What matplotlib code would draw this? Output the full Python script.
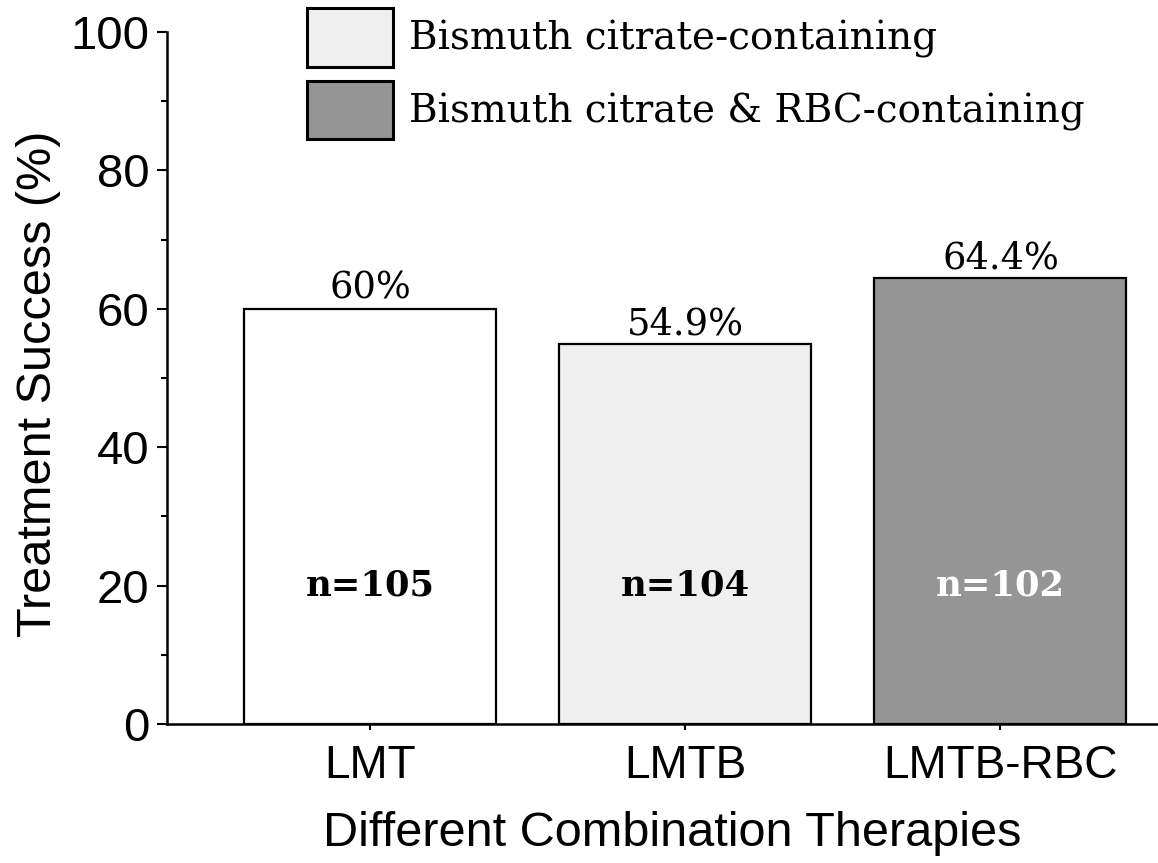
import matplotlib.pyplot as plt
from matplotlib.patches import Patch
from matplotlib.ticker import MultipleLocator

therapies = ['LMT', 'LMTB', 'LMTB-RBC']
success = [60, 54.9, 64.4]
value_labels = ['60%', '54.9%', '64.4%']
n_labels = ['n=105', 'n=104', 'n=102']
colors = ['#ffffff', '#efefef', '#959595']
n_colors = ['black', 'black', 'white']
legend_labels = ['Bismuth citrate-containing', 'Bismuth citrate & RBC-containing']

serif = 'DejaVu Serif'
sans = 'Liberation Sans'

fig = plt.figure(figsize=(11.58, 8.63), dpi=100)
ax = fig.add_axes([0.1442, 0.161, 0.8558, 0.802])

x = range(len(therapies))
ax.bar(x, success, width=0.8, color=colors, edgecolor='black', linewidth=1.6, zorder=2)

for i, v in enumerate(success):
    ax.text(i, v + 0.3, value_labels[i], ha='center', va='bottom',
            fontsize=26.5, family=serif)
    ax.text(i, 20, n_labels[i], ha='center', va='center', fontsize=25.5,
            family=serif, fontweight='bold', color=n_colors[i])

ax.set_xlim(-0.645, 2.5)
ax.set_ylim(0, 100)
ax.set_xticks(list(x))
ax.set_xticklabels(therapies, fontsize=33, family=sans)
ax.yaxis.set_major_locator(MultipleLocator(20))
ax.yaxis.set_minor_locator(MultipleLocator(10))
for lab in ax.get_yticklabels():
    lab.set_family(sans)
    lab.set_fontsize(34)
ax.tick_params(axis='y', which='major', length=7.5, width=1.5, pad=5)
ax.tick_params(axis='y', which='minor', length=4, width=1.5)
ax.tick_params(axis='x', which='major', length=4, width=1.5, pad=10)

for s in ['top', 'right']:
    ax.spines[s].set_visible(False)
for s in ['left', 'bottom']:
    ax.spines[s].set_linewidth(1.8)

ax.set_ylabel('Treatment Success (%)', fontsize=35, family=sans, labelpad=7, y=0.492)
ax.set_xlabel('Different Combination Therapies', fontsize=35, family=sans, labelpad=17, x=0.5096)

handles = [Patch(facecolor=colors[1], edgecolor='black', linewidth=2.2),
           Patch(facecolor=colors[2], edgecolor='black', linewidth=2.2)]
fig.legend(handles, legend_labels, loc='upper left', bbox_to_anchor=(0.2655, 0.9904),
           frameon=False, prop={'family': serif, 'size': 28},
           handlelength=2.2, handleheight=1.93, labelspacing=0.36,
           handletextpad=0.42, borderaxespad=0.0, borderpad=0.0)

fig.savefig('out.png', dpi=100)
